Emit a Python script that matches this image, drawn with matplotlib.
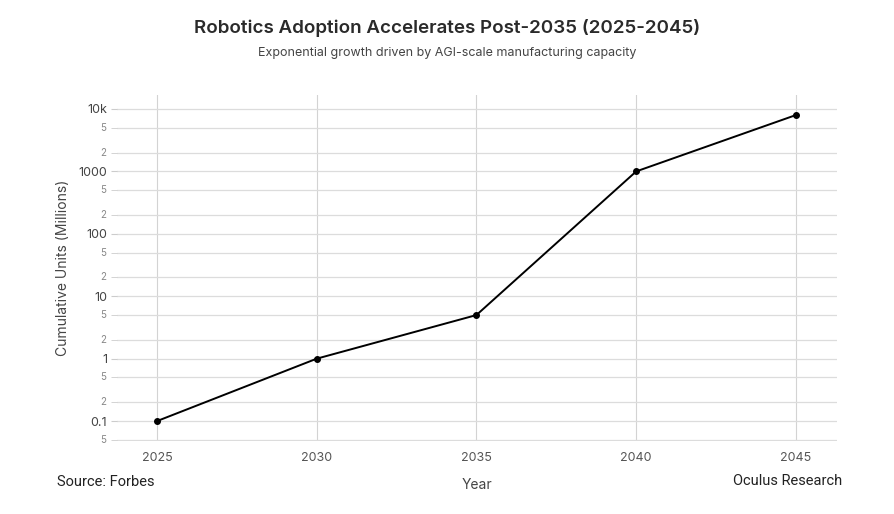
#!/usr/bin/env python3
"""Robotics adoption chart: cumulative units on a log scale, 2025-2045."""

import matplotlib

matplotlib.use("Agg")
import matplotlib.pyplot as plt
from matplotlib.ticker import FixedLocator, NullFormatter

YEARS = [2025, 2030, 2035, 2040, 2045]
UNITS = [0.1, 1, 5, 1000, 8000]

MAJOR_TICKS = [0.1, 1, 10, 100, 1000, 10000]
MAJOR_LABELS = ["0.1", "1", "10", "100", "1000", "10k"]
MINOR_TICKS = [0.05, 0.2, 0.5, 2, 5, 20, 50, 200, 500, 2000, 5000]
MINOR_LABELS = ["5", "2", "5", "2", "5", "2", "5", "2", "5", "2", "5"]

plt.rcParams["font.family"] = ["Inter", "DejaVu Sans"]

fig = plt.figure(figsize=(8.95, 5.14), dpi=100)
ax = fig.add_axes([0.1307, 0.142, 0.8043, 0.673])

ax.plot(YEARS, UNITS, color="black", linewidth=1.4, marker="o", markersize=4, zorder=3)

ax.set_yscale("log")
ax.set_ylim(0.048, 16700)
ax.set_xlim(2023.75, 2046.28)

ax.yaxis.set_major_locator(FixedLocator(MAJOR_TICKS))
ax.set_yticklabels(MAJOR_LABELS)
ax.yaxis.set_minor_locator(FixedLocator(MINOR_TICKS))
ax.yaxis.set_minor_formatter(NullFormatter())
for val, lab in zip(MINOR_TICKS, MINOR_LABELS):
    ax.annotate(lab, xy=(0, val), xycoords=("axes fraction", "data"),
                xytext=(-8, 0), textcoords="offset points",
                ha="right", va="center", fontsize=7, color="#888888")

ax.set_xticks(YEARS)
ax.set_xticklabels([str(y) for y in YEARS])

ax.tick_params(axis="y", which="major", length=4, color="#cccccc", labelsize=9,
               labelcolor="#444444", pad=3)
ax.tick_params(axis="y", which="minor", length=4, color="#cccccc")
ax.tick_params(axis="x", length=0, labelsize=9, labelcolor="#555555", pad=8)

ax.grid(True, which="both", axis="y", color="#dcdcdc", linewidth=0.9)
ax.grid(True, which="major", axis="x", color="#d3d3d3", linewidth=0.8)
ax.set_axisbelow(True)
for side in ax.spines:
    ax.spines[side].set_visible(False)

ax.set_xlabel("Year", fontsize=10, color="#444444", labelpad=10)
ax.set_ylabel("Cumulative Units (Millions)", fontsize=10, color="#444444", labelpad=6)

fig.text(0.5, 0.945, "Robotics Adoption Accelerates Post-2035 (2025-2045)",
         ha="center", va="center", fontsize=13.5, fontweight="semibold", color="#2a2a2a")
fig.text(0.5, 0.897, "Exponential growth driven by AGI-scale manufacturing capacity",
         ha="center", va="center", fontsize=9, color="#444444")
fig.text(0.064, 0.062, "Source: Forbes", ha="left", va="center", fontsize=10.5,
         color="#222222", family=["Roboto", "DejaVu Sans"])
fig.text(0.941, 0.065, "Oculus Research", ha="right", va="center", fontsize=10.5,
         color="#222222", family=["Roboto", "DejaVu Sans"])

fig.savefig("out.png", dpi=100)
